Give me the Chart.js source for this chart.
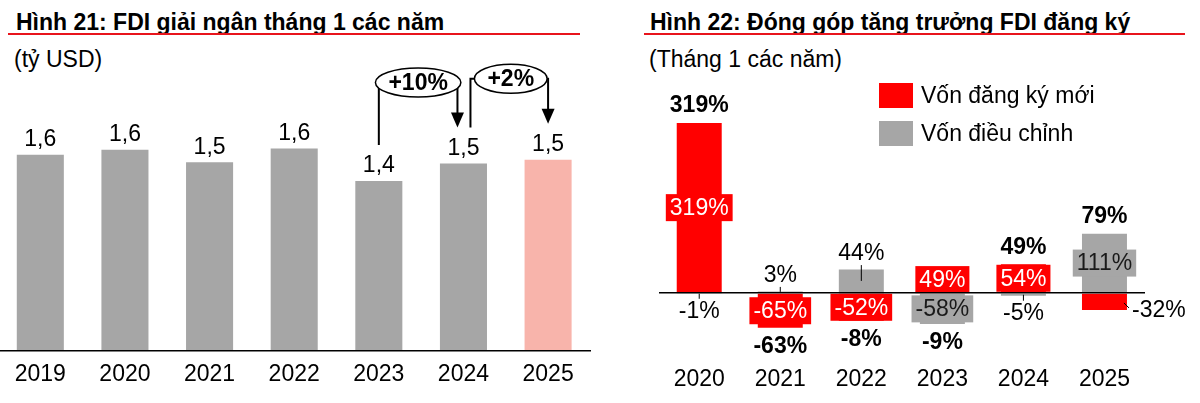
<!DOCTYPE html>
<html>
<head>
<meta charset="utf-8">
<script src="https://cdn.jsdelivr.net/npm/chart.js@4.4.1/dist/chart.umd.min.js"></script>
<style>
body{margin:0;width:1200px;height:403px;position:relative;overflow:hidden;background:#fff;font-family:'Liberation Sans',Arial,sans-serif;color:#000}
.title{position:absolute;top:11px;font-weight:bold;font-size:23px;line-height:22px;white-space:nowrap}
.rule{position:absolute;top:33px;height:1.5px;background:#e8141c}
.sub{position:absolute;top:48px;font-size:23px;line-height:22px;white-space:nowrap}
#left{position:absolute;left:-2px;top:0}
#right{position:absolute;left:600px;top:0}
.leg{position:absolute;left:879px;height:25px;line-height:25px;font-size:23px;white-space:nowrap}
.leg i{display:inline-block;width:34px;height:25px;vertical-align:top;margin-right:8px}
</style>
</head>
<body>

<div class="title" style="left:16px">Hình 21: FDI giải ngân tháng 1 các năm</div>
<div class="rule" style="left:8px;width:572px"></div>
<div class="sub" style="left:14px">(tỷ USD)</div>

<div class="title" style="left:650px">Hình 22: Đóng góp tăng trưởng FDI đăng ký</div>
<div class="rule" style="left:644px;width:541px"></div>
<div class="sub" style="left:649px">(Tháng 1 các năm)</div>

<canvas id="left" width="600" height="403"></canvas>
<canvas id="right" width="600" height="403"></canvas>
<div id="legend"></div>

<script>
// Hinh 21 data
const years = ["2019","2020","2021","2022","2023","2024","2025"];
const disbursed = [1.57, 1.61, 1.51, 1.62, 1.36, 1.50, 1.53];
const growthPairs = [["2023","2024"],["2024","2025"]];
const growthPct = [10, 2];

// Hinh 22 data
const years2 = ["2020","2021","2022","2023","2024","2025"];
const seriesNames = ["Vốn đăng ký mới","Vốn điều chỉnh"];
const newCapital = [319, -65, -52, 49, 54, -32];
const adjCapital = [-1, 3, 44, -58, -5, 111];
const totalGrowth = [319, -63, -8, -9, 49, 79];

const FONT = "'Liberation Sans', Arial, sans-serif";
const RED = "#ff0000", GREY = "#a6a6a6", PINK = "#f8b4ab";

Chart.defaults.font.family = FONT;
Chart.defaults.font.size = 23;
Chart.defaults.color = "#000";

function fmt(v){
  return v.toFixed(1).replace(".", ",");
}

const valueLabels = {
  id: "valueLabels",
  afterDatasetsDraw(chart){
    const ctx = chart.ctx;
    const meta = chart.getDatasetMeta(0);
    ctx.save();
    ctx.textAlign = "center";
    ctx.textBaseline = "middle";
    ctx.fillStyle = "#000";
    ctx.font = "23px " + FONT;
    meta.data.forEach((bar, i) => {
      ctx.fillText(fmt(disbursed[i]), bar.x, bar.y - 15);
    });

    // growth brackets
    growthPairs.forEach((pair, k) => {
      const a = meta.data[years.indexOf(pair[0])];
      const b = meta.data[years.indexOf(pair[1])];
      const txt = "+" + growthPct[k] + "%";
      ctx.font = "bold 23px " + FONT;
      const tw = ctx.measureText(txt).width;
      const rx = tw / 2 + 13, ry = 14.5;
      const ya = a.y - 15 - 21, yb = b.y - 15 - 21;
      const cy = Math.min(ya, yb) - 45;
      let xl, xr, cx;
      if (k === 0) { xl = a.x; xr = b.x - 6; cx = (a.x + b.x) / 2 - 3; }
      else { xl = a.x + 7; xr = b.x; cx = (a.x + b.x) / 2 + 5; }

      ctx.strokeStyle = "#000";
      ctx.fillStyle = "#000";
      ctx.lineWidth = 2;
      ctx.beginPath();
      ctx.moveTo(xl, ya);
      ctx.lineTo(xl, cy);
      ctx.lineTo(xr, cy);
      ctx.lineTo(xr, yb - 12);
      ctx.stroke();
      ctx.beginPath();
      ctx.moveTo(xr - 6.5, yb - 15);
      ctx.lineTo(xr + 6.5, yb - 15);
      ctx.lineTo(xr, yb);
      ctx.closePath();
      ctx.fill();

      ctx.beginPath();
      ctx.ellipse(cx, cy, rx, ry, 0, 0, Math.PI * 2);
      ctx.fillStyle = "#fff";
      ctx.fill();
      ctx.lineWidth = 1.5;
      ctx.stroke();
      ctx.fillStyle = "#000";
      ctx.fillText(txt, cx, cy + 1);
    });
    ctx.restore();
  }
};

new Chart(document.getElementById("left"), {
  type: "bar",
  data: {
    labels: years,
    datasets: [{
      data: disbursed,
      backgroundColor: ctx => ctx.index === years.length - 1 ? PINK : GREY,
      borderWidth: 0,
      categoryPercentage: 1,
      barPercentage: 0.556
    }]
  },
  options: {
    responsive: false,
    animation: false,
    layout: { padding: { top: 76, left: 0, right: 7.6, bottom: 0 } },
    plugins: { legend: { display: false }, tooltip: { enabled: false } },
    scales: {
      x: {
        grid: { display: false, drawTicks: false },
        border: { display: true, color: "#000", width: 1.5, z: 1 },
        ticks: { padding: 10, color: "#000" },
        afterFit: s => { s.height = 52; }
      },
      y: { display: false, min: 0, max: 2.2 }
    }
  },
  plugins: [valueLabels]
});

const stackLabels = {
  id: "stackLabels",
  afterDatasetsDraw(chart){
    const ctx = chart.ctx;
    const zero = chart.scales.y.getPixelForValue(0);
    const posTop = [], negBot = [];
    ctx.save();
    ctx.textAlign = "center";
    ctx.textBaseline = "middle";
    chart.data.datasets.forEach((ds, di) => {
      const meta = chart.getDatasetMeta(di);
      meta.data.forEach((bar, i) => {
        const v = ds.data[i];
        const top = Math.min(bar.y, bar.base), bot = Math.max(bar.y, bar.base);
        if (v >= 0) posTop[i] = Math.min(posTop[i] ?? zero, top);
        else negBot[i] = Math.max(negBot[i] ?? zero, bot);
        const txt = v + "%";
        ctx.font = "23px " + FONT;
        const tw = ctx.measureText(txt).width;
        const mid = (top + bot) / 2;
        ctx.strokeStyle = "#000";
        ctx.lineWidth = 1;
        if (bot - top >= 25) {
          ctx.fillStyle = ds.backgroundColor;
          ctx.fillRect(bar.x - tw / 2 - 4, mid - 13.5, tw + 8, 27);
          ctx.fillStyle = ds.labelColor;
          ctx.fillText(txt, bar.x, mid + 1);
        } else if (i === years2.length - 1) {
          const right = bar.x + bar.width / 2;
          ctx.beginPath();
          ctx.moveTo(right - 3, mid + 1);
          ctx.lineTo(right + 2, mid + 6);
          ctx.stroke();
          ctx.textAlign = "left";
          ctx.fillStyle = "#000";
          ctx.fillText(txt, right + 5, mid + 9);
          ctx.textAlign = "center";
        } else {
          const ty = v >= 0 ? top - 16.5 : bot + 17;
          ctx.beginPath();
          ctx.moveTo(bar.x, mid);
          ctx.lineTo(bar.x, v >= 0 ? ty + 12 : ty - 12);
          ctx.stroke();
          ctx.fillStyle = "#000";
          ctx.fillText(txt, bar.x, ty + 1);
        }
      });
    });
    // totals
    ctx.font = "bold 23px " + FONT;
    ctx.fillStyle = "#000";
    const meta0 = chart.getDatasetMeta(0);
    totalGrowth.forEach((t, i) => {
      const x = meta0.data[i].x;
      const ty = t >= 0 ? (posTop[i] ?? zero) - 18 : (negBot[i] ?? zero) + 18;
      ctx.fillText(t + "%", x, ty + 1);
    });
    ctx.restore();
  }
};

const rightChart = new Chart(document.getElementById("right"), {
  type: "bar",
  data: {
    labels: years2,
    datasets: [
      { label: seriesNames[0], data: newCapital, backgroundColor: RED, labelColor: "#fff",
        borderWidth: 0, categoryPercentage: 1, barPercentage: 0.555 },
      { label: seriesNames[1], data: adjCapital, backgroundColor: GREY, labelColor: "#1a1a1a",
        borderWidth: 0, categoryPercentage: 1, barPercentage: 0.555 }
    ]
  },
  options: {
    responsive: false,
    animation: false,
    layout: { padding: { top: 111.8, left: 58.7, right: 55, bottom: 0 } },
    plugins: { legend: { display: false }, tooltip: { enabled: false } },
    scales: {
      x: {
        stacked: true,
        grid: { display: false, drawTicks: false },
        border: { display: false },
        ticks: { padding: 9, color: "#000" },
        afterFit: s => { s.height = 46; }
      },
      y: {
        stacked: true,
        min: -120,
        max: 340,
        ticks: { display: false, stepSize: 20 },
        border: { display: false },
        grid: {
          drawTicks: false,
          z: 1,
          lineWidth: 1.5,
          color: c => c.tick && c.tick.value === 0 ? "#000" : "rgba(0,0,0,0)"
        },
        afterFit: s => { s.width = 0; }
      }
    }
  },
  plugins: [stackLabels]
});

// legend from the datasets
let legend = document.getElementById("legend");
rightChart.data.datasets.forEach((ds, i) => {
  let d = document.createElement("div");
  d.className = "leg";
  d.style.top = (83 + i * 38) + "px";
  d.innerHTML = '<i style="background:' + ds.backgroundColor + '"></i>' + ds.label;
  legend.appendChild(d);
});
</script>
</body>
</html>
